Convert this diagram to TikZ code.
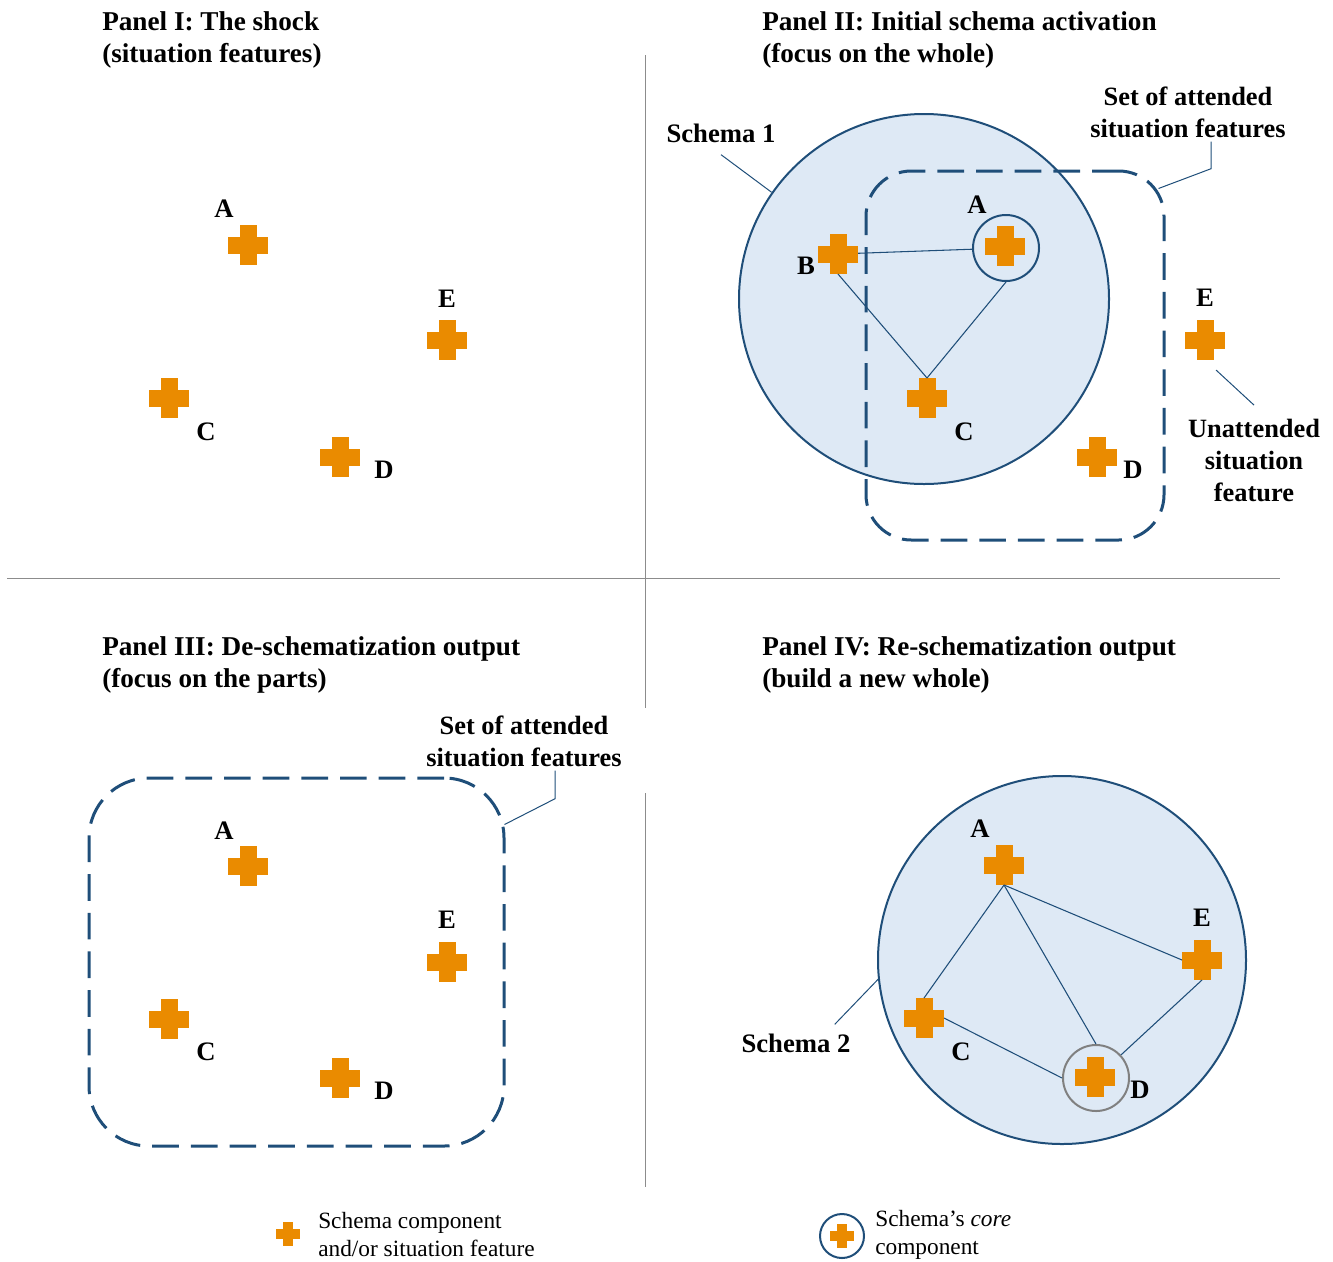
\documentclass[tikz,border=0pt]{standalone}
\usepackage{fontspec}
\setmainfont{Liberation Serif}
\usetikzlibrary{calc}

\definecolor{featc}{RGB}{234,139,0}
\definecolor{schemablue}{RGB}{31,78,121}
\definecolor{schemafill}{RGB}{222,233,245}
\definecolor{divgray}{RGB}{140,140,140}
\definecolor{coregray}{RGB}{128,128,128}

\tikzset{
  % orange plus sign: #1 = overall size, #2 = arm thickness
  featmark/.style n args={2}{minimum width=#1, minimum height=#1, inner sep=0pt, outer sep=0pt,
    path picture={
      \fill[featc] ([shift={(-#1/2,-#2/2)}]path picture bounding box.center) rectangle ([shift={(#1/2,#2/2)}]path picture bounding box.center);
      \fill[featc] ([shift={(-#2/2,-#1/2)}]path picture bounding box.center) rectangle ([shift={(#2/2,#1/2)}]path picture bounding box.center);
    }},
  feat/.style={featmark={30pt}{12.75pt}},
  featsmall/.style={featmark={18pt}{7.5pt}},
  title/.style={font=\bfseries\fontsize{20.4}{24}\selectfont, align=left, anchor=north west, inner sep=0pt},
  lab/.style={font=\bfseries\fontsize{20}{24}\selectfont, inner sep=0pt},
  note/.style={font=\bfseries\fontsize{19.8}{24}\selectfont, align=center, inner sep=0pt},
  legtext/.style={font=\fontsize{17.5}{21}\selectfont, align=left, anchor=west, inner sep=0pt},
  schema/.style={circle, draw=schemablue, fill=schemafill, line width=1.5pt, minimum size=#1, inner sep=0pt},
  core/.style={circle, draw=#1, line width=1.5pt, minimum size=49.5pt, inner sep=0pt},
  attended/.style={draw=schemablue, line width=2.25pt, dash pattern=on 20pt off 9pt, rounded corners=#1, inner sep=0pt},
  link/.style={draw=schemablue, line width=0.8pt},
  callout/.style={draw=schemablue, line width=0.75pt},
  divider/.style={draw=divgray, line width=0.75pt}
}

\begin{document}
\begin{tikzpicture}[x=0.75pt, y=-0.75pt]
\useasboundingbox (0,0) rectangle (1333,1261);

% quadrant dividers
\draw[divider] (645,55) -- (645,708);
\draw[divider] (645,793) -- (645,1187);
\draw[divider] (7,578) -- (1280,578);

% ---------- Panel I ----------
\node[title] (t1) at (102,11) {Panel I: The shock\\(situation features)};
\node[feat] (A1) at (248,245) {};
\node[feat] (E1) at (447,340) {};
\node[feat] (C1) at (169,398) {};
\node[feat] (D1) at (340,457) {};
\node[lab] (lA1) at (224,209) {A};
\node[lab] (lE1) at (447,299) {E};
\node[lab] (lC1) at (206,432) {C};
\node[lab] (lD1) at (384,470) {D};

% ---------- Panel II ----------
\node[title] (t2) at (762,11) {Panel II: Initial schema activation\\(focus on the whole)};
\node[schema=277.5pt] (S1) at (924,299) {};
\node[attended=34pt, minimum width=223.5pt, minimum height=276.75pt] (att2) at (1015,355.5) {};
\node[feat] (A2) at (1005,246) {};
\node[core=schemablue] (kA2) at (1006,248) {};
\node[feat] (B2) at (838,254) {};
\node[feat] (C2) at (927,398) {};
\node[feat] (D2) at (1097,457) {};
\node[feat] (E2) at (1205,340) {};
\draw[link] (B2) -- (kA2);
\draw[link] (B2.south) -- (C2.north);
\draw[link] (kA2.south) -- (C2.north);
\node[lab] (lA2) at (977,205) {A};
\node[lab] (lB2) at (806,266) {B};
\node[lab] (lC2) at (964,432) {C};
\node[lab] (lD2) at (1133,470) {D};
\node[lab] (lE2) at (1205,298) {E};
\node[lab] (lS1) at (721,133) {Schema 1};
\draw[callout] ([yshift=-9pt]lS1.south) -- (S1.145);
\node[note] (lSet2) at (1188,112) {Set of attended\\situation features};
\draw[callout] ([xshift=17.25pt,yshift=-3pt]lSet2.south) -- ++(0,27) -- ([shift={(-7,19)}]att2.north east);
\node[note] (lUn) at (1254,460) {Unattended\\situation\\feature};
\draw[callout] ([shift={(11,10)}]E2.south) -- ([yshift=10pt]lUn.north);

% ---------- Panel III ----------
\node[title] (t3) at (102,636) {Panel III: De-schematization output\\(focus on the parts)};
\node[attended=45pt, minimum width=311.25pt, minimum height=276pt] (att3) at (296.5,962) {};
\node[feat] (A3) at (248,866) {};
\node[feat] (E3) at (447,962) {};
\node[feat] (C3) at (169,1019) {};
\node[feat] (D3) at (340,1078) {};
\node[lab] (lA3) at (224,831) {A};
\node[lab] (lE3) at (447,920) {E};
\node[lab] (lC3) at (206,1052) {C};
\node[lab] (lD3) at (384,1091) {D};
\node[note] (lSet3) at (524,741) {Set of attended\\situation features};
\draw[callout] ([xshift=23.25pt,yshift=-3pt]lSet3.south) -- ++(0,28) -- ([shift={(-1,48)}]att3.north east);

% ---------- Panel IV ----------
\node[title] (t4) at (762,636) {Panel IV: Re-schematization output\\(build a new whole)};
\node[schema=276pt] (S4) at (1062,960) {};
\node[feat] (A4) at (1004,865) {};
\node[feat] (E4) at (1202,960) {};
\node[feat] (C4) at (924,1018) {};
\node[feat] (D4) at (1095,1077) {};
\node[core=coregray] (kD4) at (1096,1078) {};
\draw[link] (A4.south) -- (C4.north);
\draw[link] (A4.south) -- (kD4.north);
\draw[link] (A4.south) -- (E4.west);
\draw[link] (C4.east) -- (kD4.west);
\draw[link] (E4.south) -- (kD4);
\node[lab] (lA4) at (980,829) {A};
\node[lab] (lE4) at (1202,918) {E};
\node[lab] (lC4) at (961,1052) {C};
\node[lab] (lD4) at (1140,1090) {D};
\node[lab] (lS2) at (796,1043) {Schema 2};
\draw[callout] ([shift={(-16,-9)}]lS2.north east) -- (S4.186);

% ---------- Legend ----------
\node[featsmall] (legF) at (288,1234) {};
\node[legtext] (legT1) at (318,1234) {Schema component\\and/or situation feature};
\node[circle, draw=schemablue, line width=1.5pt, minimum size=33pt, inner sep=0pt] (legC) at (842,1236) {};
\node[featsmall] (legF2) at (842,1236) {};
\node[legtext] (legT2) at (875,1235) {Schema’s \textit{core}\\component};
\end{tikzpicture}
\end{document}
